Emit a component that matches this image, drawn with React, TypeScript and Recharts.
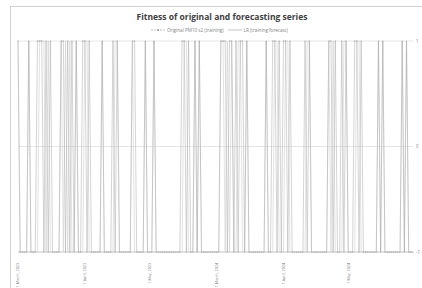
import React from "react";
import { LineChart, Line, XAxis, YAxis, CartesianGrid } from "recharts";

const months2023 = ["March", "April", "May"];
const monthDays = [31, 30, 31];
const years = [2023, 2024];

const categories: string[] = [];
years.forEach((yr) => {
  months2023.forEach((m, mi) => {
    for (let d = 1; d <= monthDays[mi]; d++) categories.push(`${d} ${m}, ${yr}`);
  });
});

const originalValues = [
  1, -1, -1, -1, -1, 1, -1, -1, -1, 1, 1, 1, -1, 1, -1, 1, -1, -1, -1, -1, 1, 1, -1,
  1, -1, 1, -1, 1, -1, -1, 1, 1, -1, 1, -1, -1, -1, -1, -1, 1, -1, -1, -1, -1, 1, -1,
  1, -1, -1, -1, -1, -1, -1, 1, 1, -1, -1, -1, -1, 1, -1, -1, -1, 1, -1, -1, -1, -1, -1,
  -1, -1, -1, -1, -1, -1, -1, 1, 1, -1, 1, -1, -1, 1, -1, 1, -1, -1, -1, -1, -1, -1, -1,
  -1, -1, 1, 1, 1, -1, 1, 1, -1, 1, -1, 1, 1, -1, 1, -1, -1, -1, -1, -1, -1, -1, -1,
  1, -1, -1, 1, 1, -1, 1, -1, 1, 1, -1, 1, -1, -1, -1, -1, -1, -1, 1, -1, 1, -1, -1,
  -1, -1, -1, -1, -1, -1, 1, 1, -1, 1, -1, -1, 1, -1, 1, -1, -1, -1, 1, 1, -1, 1, -1,
  -1, -1, -1, -1, -1, -1, 1, -1, 1, -1, -1, -1, -1, -1, -1, -1, -1, 1, -1, 1, -1, -1, -1,
];

const lrValues = [
  1, -1, -1, -1, -1, 1, -1, -1, -1, -1, 1, 1, 1, -1, 1, -1, -1, -1, -1, -1, 1, -1, 1,
  -1, 1, -1, -1, 1, -1, -1, -1, 1, 1, -1, -1, -1, -1, -1, -1, 1, -1, -1, -1, -1, -1, 1,
  1, -1, -1, -1, -1, -1, -1, 1, -1, -1, -1, -1, -1, 1, -1, -1, -1, 1, -1, -1, -1, -1, -1,
  -1, -1, -1, -1, -1, -1, -1, -1, 1, 1, -1, -1, -1, 1, -1, 1, -1, -1, -1, -1, -1, -1, -1,
  -1, -1, 1, 1, -1, 1, -1, 1, -1, -1, 1, 1, -1, -1, 1, -1, -1, -1, -1, -1, -1, -1, -1,
  1, -1, -1, -1, 1, 1, -1, -1, -1, 1, 1, -1, -1, -1, -1, -1, -1, -1, -1, 1, 1, -1, -1,
  -1, -1, -1, -1, -1, -1, 1, -1, 1, -1, -1, -1, -1, 1, 1, -1, -1, -1, -1, 1, 1, -1, -1,
  -1, -1, -1, -1, -1, -1, 1, -1, 1, -1, -1, -1, -1, -1, -1, -1, -1, 1, -1, 1, -1, -1, -1,
];

const yTicks = [-1, 0, 1];
const seriesNames = ["Original PM10 s2 (training)", "LR (training forecast)"];
const title = "Fitness of original and forecasting series";

const data = categories.map((c, i) => ({
  date: c,
  original: originalValues[i],
  lr: lrValues[i],
}));

const FONT = "'Open Sans', 'Liberation Sans', sans-serif";

const DateTick = (props: any) => {
  const { x, y, payload } = props;
  const v: string = payload.value;
  if (!v.startsWith("1 ")) return null;
  return (
    <g transform={`translate(${x},${y})`}>
      <text
        transform="rotate(-90)"
        x={-3}
        y={1.4}
        textAnchor="end"
        fontSize={3.7}
        fill="#7f7f7f"
        fontFamily={FONT}
      >
        {v}
      </text>
    </g>
  );
};

const RightTick = (props: any) => {
  const { x, y, payload } = props;
  return (
    <text x={x - 5} y={y + 1.7} fontSize={4.4} fill="#7f7f7f" fontFamily={FONT} textAnchor="start">
      {payload.value}
    </text>
  );
};

export default function App() {
  return (
    <div
      style={{
        position: "absolute",
        left: 10,
        top: 6,
        width: 412,
        height: 282,
        borderLeft: "1px solid #d0d0d0",
        borderTop: "1px solid #d0d0d0",
        boxSizing: "border-box",
        background: "#fff",
        fontFamily: FONT,
      }}
    >
      <div
        style={{
          position: "absolute",
          left: 0,
          width: 422,
          top: 4,
          textAlign: "center",
          fontSize: 8.5,
          fontWeight: 700,
          color: "#404040",
          whiteSpace: "nowrap",
        }}
      >
        {title}
      </div>
      <div
        style={{
          position: "absolute",
          left: 140,
          top: 20,
          display: "flex",
          alignItems: "center",
          fontSize: 4.6,
          color: "#7f7f7f",
          whiteSpace: "nowrap",
        }}
      >
        <svg width={14} height={6} style={{ marginRight: 2 }}>
          <line x1={0} y1={3} x2={14} y2={3} stroke="#a0a0a0" strokeWidth={0.7} strokeDasharray="2 1" />
          <circle cx={7} cy={3} r={0.9} fill="#909090" />
        </svg>
        <span>{seriesNames[0]}</span>
        <svg width={14} height={6} style={{ marginLeft: 4, marginRight: 2 }}>
          <line x1={0} y1={3} x2={14} y2={3} stroke="#a8a8a8" strokeWidth={0.7} />
        </svg>
        <span>{seriesNames[1]}</span>
      </div>
      <LineChart
        width={411}
        height={281}
        data={data}
        margin={{ top: 34, right: 0, bottom: 0, left: 7 }}
        style={{ position: "absolute", left: 0, top: 0 }}
      >
        <CartesianGrid vertical={false} stroke="#e0e0e0" strokeWidth={0.8} />
        <XAxis
          dataKey="date"
          interval={0}
          tick={<DateTick />}
          tickLine={false}
          axisLine={{ stroke: "#d0d0d0" }}
          height={36}
        />
        <YAxis
          orientation="right"
          domain={[-1, 1]}
          ticks={yTicks}
          width={9}
          tickLine={false}
          axisLine={false}
          tick={<RightTick />}
        />
        <Line
          type="linear"
          dataKey="lr"
          stroke="#cfcfcf"
          strokeWidth={0.6}
          dot={false}
          isAnimationActive={false}
        />
        <Line
          type="linear"
          dataKey="original"
          stroke="#a8a8a8"
          strokeWidth={0.5}
          dot={{ r: 0.6, fill: "#a0a0a0", stroke: "none" }}
          isAnimationActive={false}
        />
      </LineChart>
    </div>
  );
}
